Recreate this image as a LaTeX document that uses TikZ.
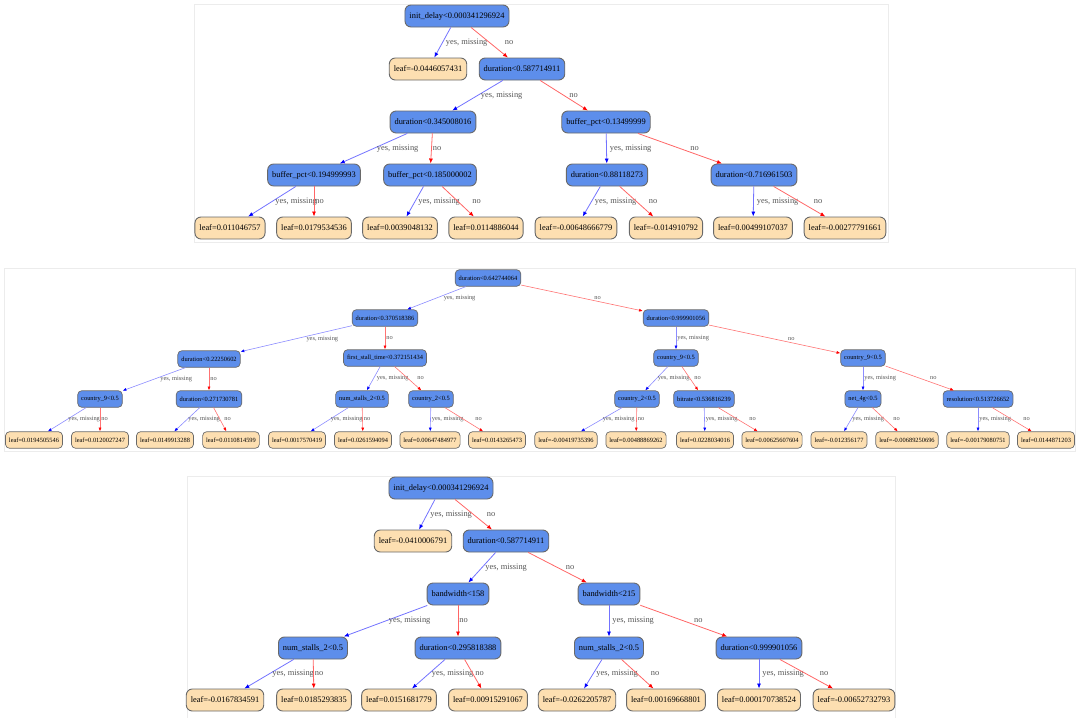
\documentclass[tikz,border=0pt]{standalone}
\usepackage{fontspec}
\setmainfont{Liberation Serif}
\usetikzlibrary{arrows.meta}

\definecolor{splitblue}{RGB}{93,142,235}
\definecolor{leafcream}{RGB}{253,223,177}
\definecolor{boxgray}{RGB}{105,105,105}
\definecolor{panelgray}{RGB}{236,236,236}
\definecolor{lblgray}{RGB}{85,85,85}

\begin{document}
\begin{tikzpicture}[x=1pt, y=-1pt,
        box/.style={draw=boxgray, line width=0.9pt, rounded corners=6pt, minimum height=22pt,
                inner xsep=4.5pt, inner ysep=0pt, font=\fontsize{8.4}{9}\selectfont},
        split/.style={box, fill=splitblue},
        leaf/.style={box, fill=leafcream},
        minibox/.style={minimum height=16.5pt, rounded corners=4pt, inner xsep=3.5pt,
                line width=0.7pt, font=\fontsize{6.4}{7}\selectfont},
        yesedge/.style={draw=blue!55, line width=0.8pt, -{Latex[color=blue, length=5pt, width=4pt]}},
        noedge/.style={draw=red!60, line width=0.8pt, -{Latex[color=red, length=5pt, width=4pt]}},
        myes/.style={draw=blue!45, line width=0.6pt, -{Latex[color=blue, length=3.8pt, width=3pt]}},
        mno/.style={draw=red!55, line width=0.6pt, -{Latex[color=red, length=3.8pt, width=3pt]}},
        lbl/.style={anchor=west, pos=0.5, inner sep=1pt, text=lblgray, font=\fontsize{8.4}{9}\selectfont},
        slbl/.style={lbl, font=\fontsize{6.4}{7}\selectfont},
    ]
    \useasboundingbox (0,0) rectangle (1080,718);

    % panels
    \draw[panelgray, line width=0.6pt] (194,4) rectangle (888,242);
    \draw[panelgray, line width=0.6pt] (4,268) rectangle (1075,451);
    \draw[panelgray, line width=0.6pt] (187,476) rectangle (895,718);

    % first tree
    \foreach \n/\x/\y/\t in {a0/457/16/init\_delay<0.000341296924, a2/522/69/duration<0.587714911,
            a3/433/122/duration<0.345008016, a4/606/122/buffer\_pct<0.13499999,
            a5/314/175/buffer\_pct<0.194999993, a6/430/175/buffer\_pct<0.185000002,
            a7/607/175/duration<0.88118273, a8/754/175/duration<0.716961503} {
            \node[split] (\n) at (\x,\y) {\t};
        }
    \node[leaf] (a1) at (428,69) {leaf=-0.0446057431};
    \foreach \n/\x/\t in {a9/230/0.011046757, a10/314/0.0179534536, a11/400/0.0039048132,
            a12/486/0.0114886044, a13/576/-0.00648666779, a14/666/-0.014910792,
            a15/753/0.00499107037, a16/845/-0.00277791661} {
            \node[leaf] (\n) at (\x,228) {leaf=\t};
        }
    \foreach \p/\c in {a0/a1, a2/a3, a3/a5, a4/a7, a5/a9, a6/a11, a7/a13, a8/a15} {
            \draw[yesedge] (\p) -- (\c) node[lbl, xshift=2pt] {yes, missing};
        }
    \foreach \p/\c/\s in {a0/a2/14, a2/a4/4, a3/a6/0, a4/a8/9, a5/a10/0, a6/a12/13, a7/a14/11, a8/a16/13} {
            \draw[noedge] (\p) -- (\c) node[lbl, xshift=\s pt] {no};
        }

    % second tree
    \foreach \n/\x/\y/\t in {b0/488/278/duration<0.642744064, b1/385/318/duration<0.370518386,
            b2/676/318/duration<0.999901056, b3/209/359/duration<0.22250602,
            b4/385/358/first\_stall\_time<0.372151434, b5/676/358/country\_9<0.5,
            b6/863/358/country\_9<0.5, b7/100/399/country\_9<0.5,
            b8/209/399/duration<0.271730781, b9/362/399/num\_stalls\_2<0.5,
            b10/431/399/country\_2<0.5, b11/637/399/country\_2<0.5,
            b12/704/399/bitrate<0.536816239, b13/863/399/net\_4g<0.5,
            b14/978/399/resolution<0.513726652} {
            \node[split, minibox] (\n) at (\x,\y) {\t};
        }
    \foreach \n/\x/\t in {b15/34/0.0194505546, b16/100/0.0120027247, b17/165/0.0149913288,
            b18/231/0.0110814599, b19/297/0.0017570419, b20/363/0.0261594094,
            b21/430/0.00647484977, b22/497/0.0143265473, b23/566/-0.00419735396,
            b24/636/0.00488869262, b25/705/0.0228034016, b26/772/0.00625607604,
            b27/839/-0.012356177, b28/907/-0.00689250696, b29/978/-0.00179080751,
            b30/1046/0.0144871203} {
            \node[leaf, minibox] (\n) at (\x,440) {leaf=\t};
        }
    \foreach \p/\c/\s in {b0/b1/6, b1/b3/9, b2/b5/0, b3/b7/5, b4/b9/2, b5/b11/0, b6/b13/0, b7/b15/0,
            b8/b17/0, b9/b19/0, b10/b21/0, b11/b23/0, b12/b25/0, b13/b27/0, b14/b29/0} {
            \draw[myes] (\p) -- (\c) node[slbl, xshift=\s pt] {yes, missing};
        }
    \foreach \p/\c/\s in {b0/b2/11, b1/b4/0, b2/b6/12, b3/b8/0, b4/b10/8, b5/b12/3, b6/b14/9, b7/b16/0,
            b8/b18/3, b9/b20/0, b10/b22/10, b11/b24/0, b12/b26/10, b13/b28/7, b14/b30/10} {
            \draw[mno] (\p) -- (\c) node[slbl, xshift=\s pt] {no};
        }

    % third tree
    \foreach \n/\x/\y/\t in {c0/441/488/init\_delay<0.000341296924, c2/506/541/duration<0.587714911,
            c3/458/594/bandwidth<158, c4/609/594/bandwidth<215,
            c5/313/648/num\_stalls\_2<0.5, c6/458/648/duration<0.295818388,
            c7/609/648/num\_stalls\_2<0.5, c8/759/648/duration<0.999901056} {
            \node[split] (\n) at (\x,\y) {\t};
        }
    \node[leaf] (c1) at (413,541) {leaf=-0.0410006791};
    \foreach \n/\x/\t in {c9/225/-0.0167834591, c10/314/0.0185293835, c11/399/0.0151681779,
            c12/488/0.00915291067, c13/577/-0.0262205787, c14/666/0.00169668801,
            c15/759/0.000170738524, c16/854/-0.00652732793} {
            \node[leaf] (\n) at (\x,700) {leaf=\t};
        }
    \foreach \p/\c in {c0/c1, c2/c3, c3/c5, c4/c7, c5/c9, c6/c11, c7/c13, c8/c15} {
            \draw[yesedge] (\p) -- (\c) node[lbl, xshift=2pt] {yes, missing};
        }
    \foreach \p/\c/\s in {c0/c2/12, c2/c4/7, c3/c6/0, c4/c8/9, c5/c10/0, c6/c12/1, c7/c14/12, c8/c16/12} {
            \draw[noedge] (\p) -- (\c) node[lbl, xshift=\s pt] {no};
        }
\end{tikzpicture}
\end{document}
